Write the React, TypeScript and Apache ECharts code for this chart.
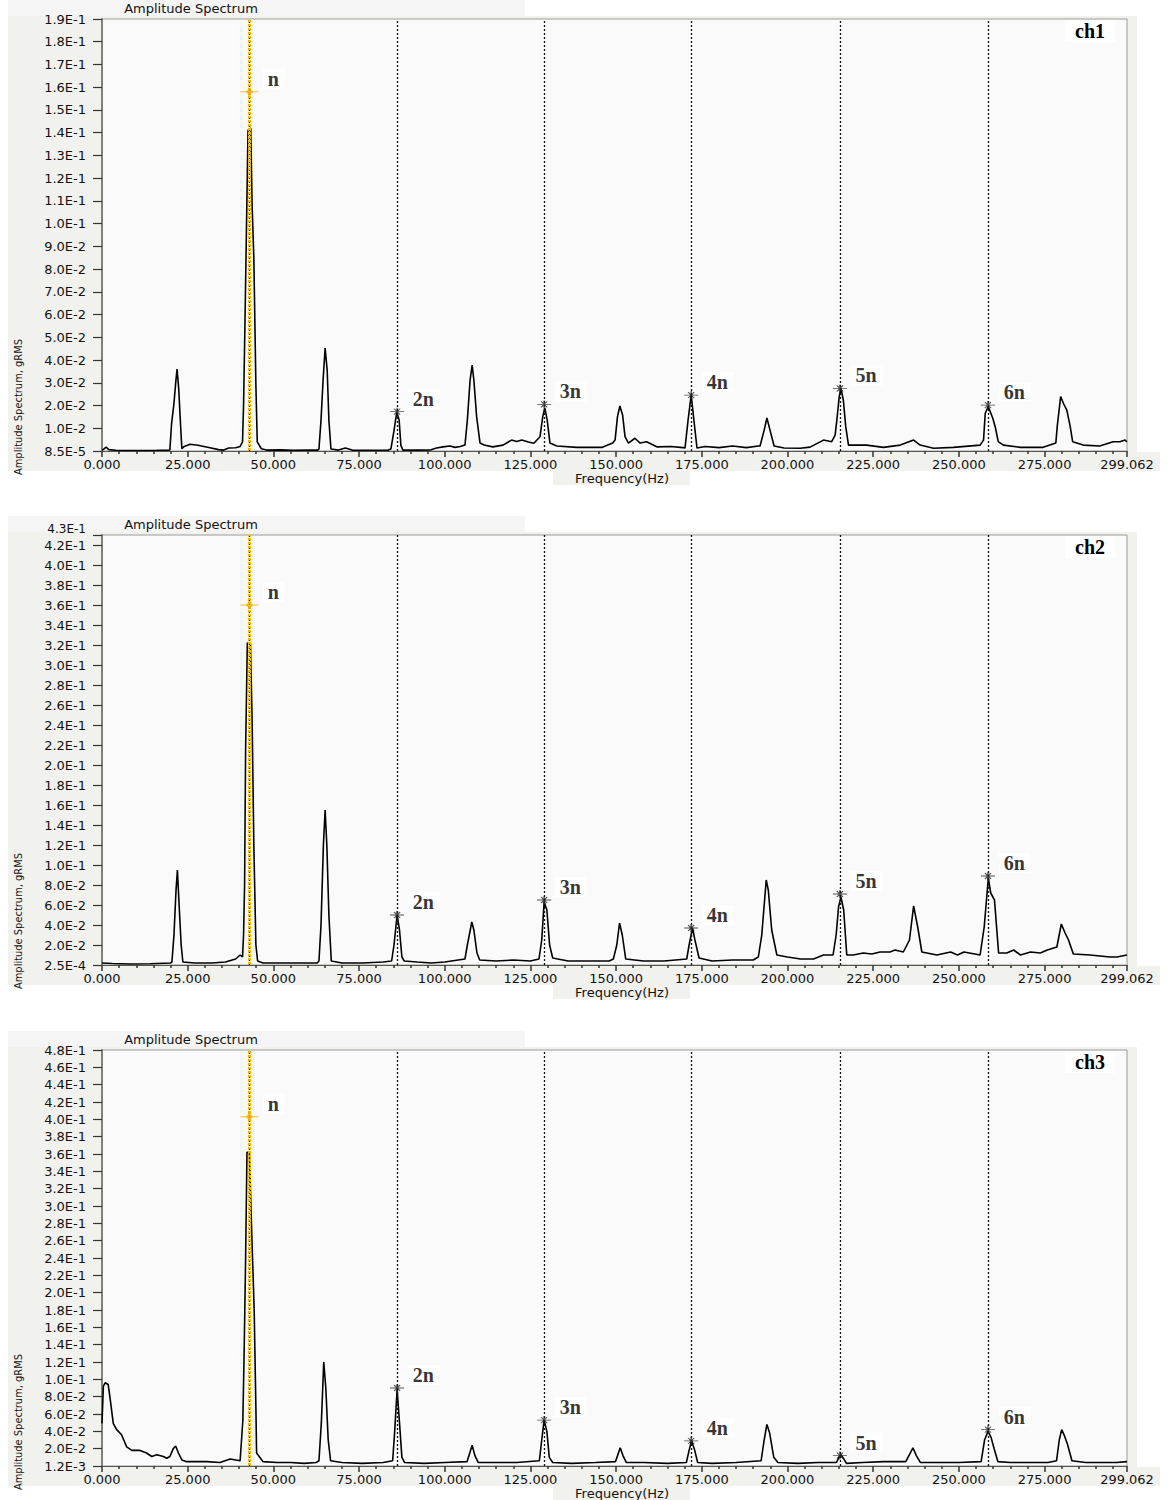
import React, { useEffect, useRef } from "react";
import * as echarts from "echarts";

// ---------------- data ----------------
const FREQ_MAX = 299.062;
const X_TICK_STEP = 25;
const HARMONIC_FREQS = [43.0, 86.1, 129.0, 171.9, 215.3, 258.5];
const HARMONIC_LABELS = ["n", "2n", "3n", "4n", "5n", "6n"];
const CHANNEL_NAMES = ["ch1", "ch2", "ch3"];
const Y_MAX = [0.19, 0.43, 0.48];
const Y_STEP = [0.01, 0.02, 0.02];
const Y_BOTTOM_LABELS = ["8.5E-5", "2.5E-4", "1.2E-3"];

const CH1_SPECTRUM: [number, number][] = [
  [0, 0.0004], [0.5, 0.0008], [1.2, 0.0017], [2.0, 0.0006], [4, 0.0003], [8, 0.0002], [12, 0.0002], [16, 0.0003], [19.5, 0.0004],
  [19.8, 0.0005], [20.3, 0.012], [21.0, 0.021], [21.5, 0.03], [21.9, 0.036], [22.4, 0.027], [22.8, 0.015], [23.3, 0.001],
  [24.0, 0.002], [25.7, 0.003], [28, 0.0025], [31.5, 0.0014], [34, 0.0006], [35.5, 0.0004], [37, 0.0013], [39, 0.0014], [40.3, 0.002],
  [41.0, 0.004], [41.3, 0.02], [41.7, 0.055], [42.1, 0.093], [42.6, 0.141], [43.4, 0.142], [43.8, 0.108], [44.3, 0.085], [44.9, 0.029], [45.3, 0.004], [46.5, 0.001], [48, 0.0004],
  [52, 0.0005], [56, 0.0003], [60, 0.0004], [63.0, 0.0004],
  [63.3, 0.0009], [63.9, 0.0136], [64.5, 0.031], [65.1, 0.0453], [65.7, 0.0356], [66.2, 0.0136], [66.8, 0.0009],
  [69, 0.0004], [71, 0.0013], [73, 0.0004], [78, 0.0003], [83.5, 0.0004],
  [84.3, 0.0009], [85.2, 0.009], [86.0, 0.017], [86.7, 0.0136], [87.2, 0.0025], [87.8, 0.0004],
  [92, 0.0004], [96, 0.0005], [97.6, 0.0013], [99.5, 0.0018], [101.5, 0.0022], [103, 0.0016], [104.5, 0.002],
  [105.9, 0.0026], [106.6, 0.0136], [107.4, 0.0312], [108.0, 0.0378], [108.5, 0.0312], [109.3, 0.0151], [110.3, 0.0035],
  [111.5, 0.0026], [114, 0.0018], [117, 0.0026], [119.5, 0.0048], [121, 0.0042], [122.5, 0.0048], [124.4, 0.004], [126, 0.0034],
  [127.8, 0.0063], [128.6, 0.0151], [129.2, 0.0189], [129.9, 0.0136], [130.7, 0.0035],
  [132.7, 0.0022], [138.5, 0.0016], [146, 0.0016], [149.0, 0.0035],
  [149.7, 0.0048], [150.4, 0.0151], [151.1, 0.0198], [151.9, 0.0158], [152.6, 0.0063], [153.6, 0.0035], [155.5, 0.0056], [157.0, 0.0035], [158.9, 0.0041], [162, 0.0018], [166, 0.002], [169.5, 0.0015],
  [170.1, 0.0013], [171.0, 0.0136], [171.9, 0.0246], [172.7, 0.0136], [173.6, 0.0013],
  [176, 0.002], [180, 0.0015], [184, 0.0022], [188, 0.0015], [191.5, 0.0022],
  [192.0, 0.0022], [193.2, 0.0092], [194.0, 0.0145], [194.9, 0.0092], [196.1, 0.0022],
  [199, 0.0013], [203.7, 0.0012], [206.6, 0.0017], [210.5, 0.0048], [212.9, 0.0041], [213.9, 0.007],
  [214.4, 0.0136], [215.1, 0.0239], [215.6, 0.0275], [216.3, 0.0224], [217.0, 0.0107], [217.8, 0.0026],
  [223.1, 0.0026], [228.0, 0.0016], [232.9, 0.0026], [236.8, 0.0048], [238.7, 0.0026], [242.6, 0.0012], [248.4, 0.0016], [256.2, 0.0026],
  [257.2, 0.0048], [257.7, 0.0166], [258.6, 0.0195], [259.9, 0.0144], [260.6, 0.0107], [261.5, 0.0041], [263.0, 0.0026],
  [268.0, 0.0016], [274.6, 0.0016], [278.3, 0.0035], [278.7, 0.0107], [279.7, 0.0239], [280.5, 0.021], [281.5, 0.018], [282.5, 0.0107], [283.2, 0.0041],
  [286.3, 0.0026], [291.1, 0.0022], [295.0, 0.0041], [297.0, 0.0041], [298.5, 0.0048], [299.062, 0.004],
];

const CH2_SPECTRUM: [number, number][] = [
  [0, 0.002], [3, 0.0015], [8, 0.001], [14, 0.0012], [20.0, 0.002],
  [20.4, 0.003], [21.0, 0.03], [21.6, 0.075], [22.0, 0.095], [22.5, 0.06], [23.1, 0.02], [23.6, 0.003],
  [27, 0.002], [32, 0.002], [36, 0.003], [39, 0.006], [40.3, 0.01], [41.0, 0.008],
  [41.3, 0.03], [41.6, 0.08], [41.9, 0.215], [42.4, 0.322], [43.3, 0.322], [43.8, 0.245], [44.3, 0.12], [44.9, 0.02], [45.4, 0.004], [47, 0.002],
  [52, 0.002], [58, 0.002], [62.8, 0.002],
  [63.3, 0.004], [63.9, 0.04], [64.6, 0.12], [65.1, 0.155], [65.6, 0.12], [66.2, 0.05], [66.9, 0.004],
  [70, 0.002], [76, 0.002], [82, 0.003], [84.5, 0.004],
  [85.2, 0.02], [86.1, 0.05], [86.8, 0.035], [87.5, 0.008], [88.2, 0.004],
  [92, 0.003], [96, 0.002], [100, 0.003], [105.9, 0.006],
  [106.6, 0.02], [107.9, 0.043], [108.5, 0.035], [109.4, 0.012], [110.2, 0.005],
  [115, 0.004], [120, 0.005], [125, 0.004], [127.5, 0.006],
  [128.3, 0.025], [129.0, 0.063], [129.8, 0.055], [130.6, 0.02], [131.5, 0.007],
  [136, 0.004], [142, 0.004], [148, 0.004], [149.2, 0.006],
  [150.2, 0.02], [151.0, 0.042], [151.8, 0.03], [152.8, 0.006],
  [158, 0.004], [164, 0.004], [170.6, 0.006],
  [171.3, 0.02], [172.3, 0.037], [173.0, 0.025], [174.2, 0.007],
  [178, 0.004], [184, 0.005], [190, 0.005], [191.5, 0.008],
  [192.5, 0.03], [193.8, 0.085], [194.4, 0.075], [195.4, 0.035], [196.9, 0.01],
  [200, 0.008], [203.8, 0.006], [207.6, 0.006], [210.5, 0.01], [213.3, 0.01],
  [214.2, 0.03], [214.9, 0.058], [215.6, 0.068], [216.4, 0.055], [217.3, 0.01],
  [219.2, 0.01], [222.1, 0.012], [224.6, 0.011], [227.0, 0.013], [229.9, 0.013], [231.4, 0.015], [233.8, 0.013],
  [235.6, 0.025], [236.8, 0.059], [238.0, 0.038], [239.2, 0.013],
  [243.6, 0.01], [247.6, 0.013], [249.6, 0.01], [251.5, 0.013], [256.2, 0.01],
  [257.4, 0.038], [258.6, 0.087], [259.3, 0.072], [260.4, 0.065], [261.6, 0.012],
  [264.0, 0.012], [266.0, 0.015], [268.0, 0.01], [270.9, 0.013], [273.8, 0.012], [275.8, 0.015],
  [278.6, 0.018], [279.9, 0.041], [281.0, 0.032], [282.0, 0.025], [283.4, 0.011],
  [288.3, 0.01], [294.1, 0.008], [296.1, 0.008], [299.062, 0.01],
];

const CH3_SPECTRUM: [number, number][] = [
  [0, 0.049], [0.4, 0.092], [0.9, 0.096], [1.8, 0.094], [2.3, 0.08], [3.3, 0.049], [4.3, 0.042], [5.7, 0.036], [7.2, 0.022], [8.7, 0.018],
  [11.1, 0.018], [13.0, 0.015], [14.5, 0.011], [16.0, 0.013], [17.9, 0.011], [18.9, 0.009], [19.8, 0.011],
  [20.8, 0.02], [21.5, 0.023], [22.3, 0.015], [23.3, 0.007], [24.7, 0.005], [30.6, 0.005], [34.4, 0.004], [37.4, 0.008], [40.3, 0.006],
  [41.1, 0.053], [41.5, 0.138], [41.9, 0.24], [42.3, 0.362], [43.0, 0.362], [43.6, 0.28], [44.4, 0.18], [44.9, 0.068], [45.1, 0.015], [47.0, 0.005],
  [51, 0.004], [55, 0.004], [59, 0.003], [62.5, 0.004],
  [63.3, 0.006], [64.0, 0.05], [64.7, 0.12], [65.3, 0.09], [66.0, 0.03], [66.7, 0.006],
  [70, 0.004], [76, 0.003], [82, 0.004], [84.8, 0.006],
  [85.4, 0.04], [86.1, 0.088], [86.8, 0.05], [87.5, 0.01], [88.3, 0.004],
  [94, 0.003], [100, 0.004], [106.5, 0.005],
  [107.3, 0.015], [108.0, 0.024], [108.8, 0.012], [109.8, 0.004],
  [115, 0.004], [121, 0.004], [127.6, 0.006],
  [128.3, 0.03], [129.0, 0.053], [129.8, 0.04], [130.5, 0.01], [131.5, 0.004],
  [137, 0.003], [144, 0.004], [149.8, 0.005],
  [150.6, 0.014], [151.2, 0.021], [152.0, 0.012], [153.0, 0.004],
  [158, 0.004], [165, 0.003], [170.5, 0.004],
  [171.3, 0.018], [172.0, 0.029], [172.8, 0.02], [173.8, 0.004],
  [178, 0.003], [185, 0.004], [192.3, 0.006],
  [193.2, 0.03], [194.0, 0.048], [194.8, 0.038], [196.0, 0.01], [197.2, 0.004],
  [203, 0.003], [209, 0.004], [214.3, 0.004],
  [215.0, 0.01], [215.6, 0.013], [216.3, 0.009], [217.2, 0.003],
  [222, 0.004], [228, 0.005], [234.5, 0.005],
  [235.7, 0.014], [236.6, 0.021], [237.6, 0.012], [238.8, 0.004],
  [243, 0.004], [250, 0.004], [256.5, 0.005],
  [257.5, 0.03], [258.5, 0.04], [259.4, 0.033], [260.3, 0.02], [261.4, 0.005],
  [265, 0.004], [270, 0.004], [276, 0.004], [278.5, 0.006],
  [279.3, 0.03], [280.0, 0.042], [280.8, 0.035], [281.7, 0.025], [283.0, 0.006],
  [287, 0.004], [292, 0.004], [296, 0.004], [299.062, 0.005],
];

const CH1_MARKERS = [0.158, 0.0173, 0.0205, 0.0246, 0.0275, 0.0202];
const CH2_MARKERS = [0.36, 0.05, 0.065, 0.037, 0.071, 0.089];
const CH3_MARKERS = [0.403, 0.09, 0.053, 0.029, 0.012, 0.042];

const SPECTRA = [CH1_SPECTRUM, CH2_SPECTRUM, CH3_SPECTRUM];
const MARKERS = [CH1_MARKERS, CH2_MARKERS, CH3_MARKERS];

// ---------------- layout / style ----------------
const LAYOUT = [
  { top: 19, height: 432 },
  { top: 535, height: 430 },
  { top: 1050, height: 416 },
];
const PLOT_LEFT = 102;
const PLOT_RIGHT_GAP = 41;
const PANEL = "#f1f1ed";
const SANS = "DejaVu Sans, Verdana, sans-serif";
const STAR_SYMBOL = "path://M0,4L14,4M7,0L7,8M4,1L10,7M4,7L10,1";
const N_SYMBOL = "path://M0,4L18,4M9,0L9,8M6,4L9,2L12,4L9,6Z";

function fmtExp(v: number) {
  return v.toExponential(1).replace("e", "E").replace("E+", "E");
}

function yFormatter(bottomLabel: string) {
  return (v: number) => (Math.abs(v) < 1e-9 ? bottomLabel : fmtExp(v));
}

export default function App() {
  const ref = useRef<HTMLDivElement>(null);

  useEffect(() => {
    document.body.style.margin = "0";
    if (!ref.current) return;
    const chart = echarts.init(ref.current, null, { renderer: "svg" });

    const grids: any[] = [];
    const xAxes: any[] = [];
    const yAxes: any[] = [];
    const extraY: any[] = [];
    const series: any[] = [];
    const graphics: any[] = [];

    const yLabelStyle = { fontFamily: SANS, fontSize: 13, color: "#111", margin: 16 };
    const yTick = { show: true, length: 9, lineStyle: { color: "#333", width: 1.2 } };

    LAYOUT.forEach((L, i) => {
      const T = L.top;
      const B = L.top + L.height;
      const yMax = Y_MAX[i];
      const ratio = yMax / Y_STEP[i];
      const maxOffTick = Math.abs(ratio - Math.round(ratio)) > 1e-6;
      grids.push({
        left: PLOT_LEFT,
        right: PLOT_RIGHT_GAP,
        top: T,
        height: L.height,
        show: true,
        backgroundColor: "#fafafa",
        borderColor: "#9a9a9a",
        borderWidth: 1,
      });
      xAxes.push({
        gridIndex: i,
        type: "value",
        min: 0,
        max: FREQ_MAX,
        interval: X_TICK_STEP,
        axisLine: { show: true, onZero: false, lineStyle: { color: "#555", width: 1.2 } },
        axisTick: { show: true, length: 6, lineStyle: { color: "#333", width: 1.5 } },
        minorTick: { show: true, splitNumber: 5, length: 3, lineStyle: { color: "#333", width: 1.5 } },
        splitLine: { show: false },
        axisLabel: {
          formatter: (v: number) => v.toFixed(3),
          fontFamily: SANS,
          fontSize: 13,
          color: "#111",
          margin: 7,
          showMinLabel: true,
          showMaxLabel: true,
        },
      });
      yAxes.push({
        gridIndex: i,
        type: "value",
        position: "left",
        min: 0,
        max: yMax,
        interval: Y_STEP[i],
        axisLine: { show: true, lineStyle: { color: "#808080", width: 2 } },
        axisTick: yTick,
        splitLine: { show: false },
        axisLabel: {
          ...yLabelStyle,
          formatter: yFormatter(Y_BOTTOM_LABELS[i]),
          showMinLabel: true,
          showMaxLabel: false,
        },
      });
      // companion axis carrying only the top (max) label so it is not hidden by overlap
      extraY.push({
        gridIndex: i,
        type: "value",
        position: "left",
        min: 0,
        max: yMax,
        interval: yMax,
        axisLine: { show: false },
        axisTick: yTick,
        splitLine: { show: false },
        axisLabel: {
          ...yLabelStyle,
          ...(maxOffTick ? { fontSize: 12, verticalAlign: "bottom", lineHeight: 12 } : {}),
          formatter: (v: number) => (v >= yMax - 1e-9 ? fmtExp(v) : ""),
          showMinLabel: false,
          showMaxLabel: true,
        },
      });

      const markData: any[] = [];
      HARMONIC_FREQS.forEach((h, k) => {
        if (k === 0) {
          markData.push({ xAxis: h, lineStyle: { color: "#f2b800", width: 3, type: [3, 1] } });
          markData.push({ xAxis: h, lineStyle: { color: "#222", width: 1, type: [1, 3] } });
        } else {
          markData.push({ xAxis: h, lineStyle: { color: "#111", width: 1.3, type: [2, 2] } });
        }
      });

      series.push({
        type: "line",
        xAxisIndex: i,
        yAxisIndex: i,
        data: SPECTRA[i],
        showSymbol: false,
        symbol: "none",
        lineStyle: { color: "#000", width: 1.6 },
        z: 3,
        markLine: {
          silent: true,
          symbol: ["none", "none"],
          label: { show: false },
          data: markData,
          z: 5,
        },
      });

      series.push({
        type: "scatter",
        xAxisIndex: i,
        yAxisIndex: i,
        z: 6,
        data: HARMONIC_FREQS.map((h, k) => ({
          value: [h, MARKERS[i][k]],
          name: HARMONIC_LABELS[k],
          symbol: k === 0 ? N_SYMBOL : STAR_SYMBOL,
          symbolSize: k === 0 ? [18, 8] : [14, 8],
          itemStyle: {
            color: "rgba(0,0,0,0)",
            borderColor: k === 0 ? "#f0b000" : "#222",
            borderWidth: k === 0 ? 1.8 : 1,
          },
        })),
        label: {
          show: true,
          formatter: "{b}",
          position: "right",
          distance: 3,
          offset: [0, -13],
          fontFamily: "Liberation Serif, Times New Roman, serif",
          fontWeight: "bold",
          fontSize: 20,
          color: "#000",
          backgroundColor: "#fff",
          padding: [0, 6, 0, 5],
        },
      });

      // background panels
      graphics.push({ type: "rect", z: -10, shape: { x: 8, y: T - 19, width: 517, height: 16 }, style: { fill: "#f5f5f5" } });
      graphics.push({ type: "rect", z: -10, shape: { x: 8, y: T - 3, width: 1129, height: L.height + 23 }, style: { fill: PANEL } });
      graphics.push({ type: "rect", z: -10, shape: { x: 1137, y: B + 1, width: 23, height: 19 }, style: { fill: PANEL } });
      graphics.push({ type: "rect", z: -10, shape: { x: 553, y: B + 20, width: 137, height: 14 }, style: { fill: PANEL } });
      graphics.push({
        type: "text",
        z: 10,
        x: 191,
        y: T - 11,
        style: { text: "Amplitude Spectrum", font: `13px ${SANS}`, fill: "#111", align: "center", verticalAlign: "middle", textAlign: "center", textVerticalAlign: "middle" },
      });
      graphics.push({
        type: "text",
        z: 10,
        x: 622,
        y: B + 27,
        style: { text: "Frequency(Hz)", font: `13px ${SANS}`, fill: "#111", align: "center", verticalAlign: "middle", textAlign: "center", textVerticalAlign: "middle" },
      });
      graphics.push({
        type: "text",
        z: 10,
        x: 18,
        y: B - 44,
        rotation: Math.PI / 2,
        style: { text: "Amplitude Spectrum, gRMS", font: "11px 'DejaVu Sans Condensed', 'Liberation Sans Narrow', sans-serif", fill: "#111", align: "center", verticalAlign: "middle", textAlign: "center", textVerticalAlign: "middle" },
      });
      graphics.push({
        type: "text",
        z: 10,
        x: 1090,
        y: T + 12,
        style: {
          text: CHANNEL_NAMES[i],
          font: "bold 20px 'Liberation Serif', 'Times New Roman', serif",
          fill: "#000",
          align: "center",
          verticalAlign: "middle",
          textAlign: "center",
          textVerticalAlign: "middle",
          backgroundColor: "#fff",
          padding: [1, 10, 1, 10],
        },
      });
    });

    chart.setOption({
      animation: false,
      backgroundColor: "#ffffff",
      grid: grids,
      xAxis: xAxes,
      yAxis: [...yAxes, ...extraY],
      series,
      graphic: { elements: graphics },
    });

    return () => {
      chart.dispose();
    };
  }, []);

  return <div ref={ref} style={{ width: 1168, height: 1500 }} />;
}
